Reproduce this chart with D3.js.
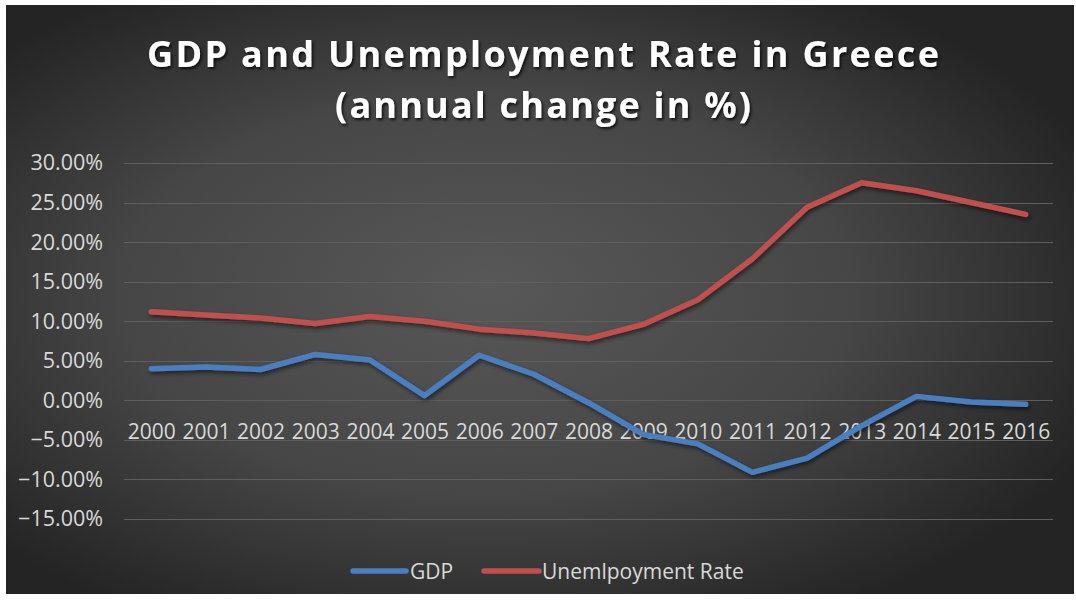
<!DOCTYPE html>
<html>
<head>
<meta charset="utf-8">
<script src="https://cdn.jsdelivr.net/npm/d3@7"></script>
<style>
  html, body { margin: 0; padding: 0; background: #ffffff; }
  svg { display: block; }
</style>
</head>
<body>
<svg id="chart" width="1076" height="606"></svg>
<script>
// Greece, 2000-2016: real GDP growth and unemployment rate (%)
const years = ["2000","2001","2002","2003","2004","2005","2006","2007","2008",
               "2009","2010","2011","2012","2013","2014","2015","2016"];
const gdp = [4.0, 4.2, 3.9, 5.8, 5.1, 0.6, 5.7, 3.3, -0.3,
             -4.3, -5.5, -9.1, -7.3, -3.2, 0.5, -0.2, -0.5];
const unemployment = [11.2, 10.8, 10.4, 9.7, 10.6, 10.0, 9.0, 8.5, 7.8,
                      9.6, 12.7, 17.9, 24.4, 27.5, 26.5, 25.0, 23.5];
const yTicks = [-15, -10, -5, 0, 5, 10, 15, 20, 25, 30];
const seriesNames = ["GDP", "Unemlpoyment Rate"];
const seriesColors = ["#4a7fc1", "#c0504d"];

const svg = d3.select("#chart");

const defs = svg.append("defs");
const bg = defs.append("radialGradient")
  .attr("id", "bg").attr("cx", "45%").attr("cy", "50%").attr("r", "62%")
  .attr("fx", "45%").attr("fy", "48%");
bg.append("stop").attr("offset", "0%").attr("stop-color", "#585858");
bg.append("stop").attr("offset", "55%").attr("stop-color", "#464646");
bg.append("stop").attr("offset", "100%").attr("stop-color", "#242424");

const shadow = defs.append("filter").attr("id", "shadow")
  .attr("x", "-10%").attr("y", "-10%").attr("width", "120%").attr("height", "130%");
shadow.append("feDropShadow").attr("dx", 1.5).attr("dy", 2.5)
  .attr("stdDeviation", 2).attr("flood-color", "#000").attr("flood-opacity", 0.55);

const tshadow = defs.append("filter").attr("id", "tshadow")
  .attr("x", "-5%").attr("y", "-20%").attr("width", "110%").attr("height", "150%");
tshadow.append("feDropShadow").attr("dx", 1.5).attr("dy", 2)
  .attr("stdDeviation", 1.5).attr("flood-color", "#000").attr("flood-opacity", 0.8);

// chart panel
svg.append("rect").attr("x", 6).attr("y", 5).attr("width", 1068).attr("height", 589)
  .attr("fill", "url(#bg)");

const x = d3.scalePoint().domain(years).range([124, 1053]).padding(0.5);
const y = d3.scaleLinear().domain([-15, 30]).range([519, 163]);

// gridlines
svg.append("g").selectAll("line").data(yTicks).join("line")
  .attr("x1", 124).attr("x2", 1053)
  .attr("y1", d => Math.round(y(d)) + 0.5).attr("y2", d => Math.round(y(d)) + 0.5)
  .attr("stroke", "#5e5e5e").attr("stroke-width", 1.2);

const labelFont = "'Open Sans', sans-serif";

// y axis labels
const fmt = d => d3.format(".2f")(d) + "%";
const yAxis = d3.axisLeft(y).tickValues(yTicks).tickFormat(fmt).tickSize(0).tickPadding(0);
const gy = svg.append("g").attr("transform", "translate(103,0)").call(yAxis);
gy.select(".domain").remove();
gy.selectAll("text").attr("fill", "#d9d9d9")
  .style("font-family", labelFont).style("font-size", "21.5px");

// x axis labels, next to the zero line
const xAxis = d3.axisBottom(x).tickSize(0).tickPadding(0);
const gx = svg.append("g").attr("transform", `translate(0,${y(0)})`).call(xAxis);
gx.select(".domain").remove();
gx.selectAll("text").attr("fill", "#d9d9d9").attr("dy", null).attr("y", 39)
  .style("font-family", labelFont).style("font-size", "21px");

// series lines
const line = d3.line().x((d, i) => x(years[i])).y(d => y(d));
[gdp, unemployment].forEach((vals, k) => {
  svg.append("path").datum(vals)
    .attr("d", line)
    .attr("fill", "none")
    .attr("stroke", seriesColors[k])
    .attr("stroke-width", 5.5)
    .attr("stroke-linejoin", "round")
    .attr("stroke-linecap", "round")
    .attr("filter", "url(#shadow)");
});

// title
const title = svg.append("g").attr("fill", "#ffffff").attr("filter", "url(#tshadow)")
  .style("font-family", labelFont).style("font-weight", "700")
  .style("font-size", "36px").attr("text-anchor", "middle");
title.append("text").attr("x", 543).attr("y", 67)
  .attr("textLength", 792).attr("lengthAdjust", "spacing")
  .text("GDP and Unemployment Rate in Greece");
title.append("text").attr("x", 543).attr("y", 118)
  .attr("textLength", 416).attr("lengthAdjust", "spacing")
  .text("(annual change in %)");

// legend
const legend = svg.append("g");
const legendItems = [
  { name: seriesNames[0], color: seriesColors[0], x1: 353, x2: 406, tx: 410 },
  { name: seriesNames[1], color: seriesColors[1], x1: 484, x2: 539, tx: 542 }
];
legendItems.forEach(it => {
  legend.append("line").attr("x1", it.x1).attr("x2", it.x2)
    .attr("y1", 571).attr("y2", 571)
    .attr("stroke", it.color).attr("stroke-width", 5.5).attr("stroke-linecap", "round");
  legend.append("text").attr("x", it.tx).attr("y", 578.5)
    .attr("fill", "#d9d9d9")
    .style("font-family", labelFont).style("font-size", "21px")
    .text(it.name);
});
</script>
</body>
</html>
